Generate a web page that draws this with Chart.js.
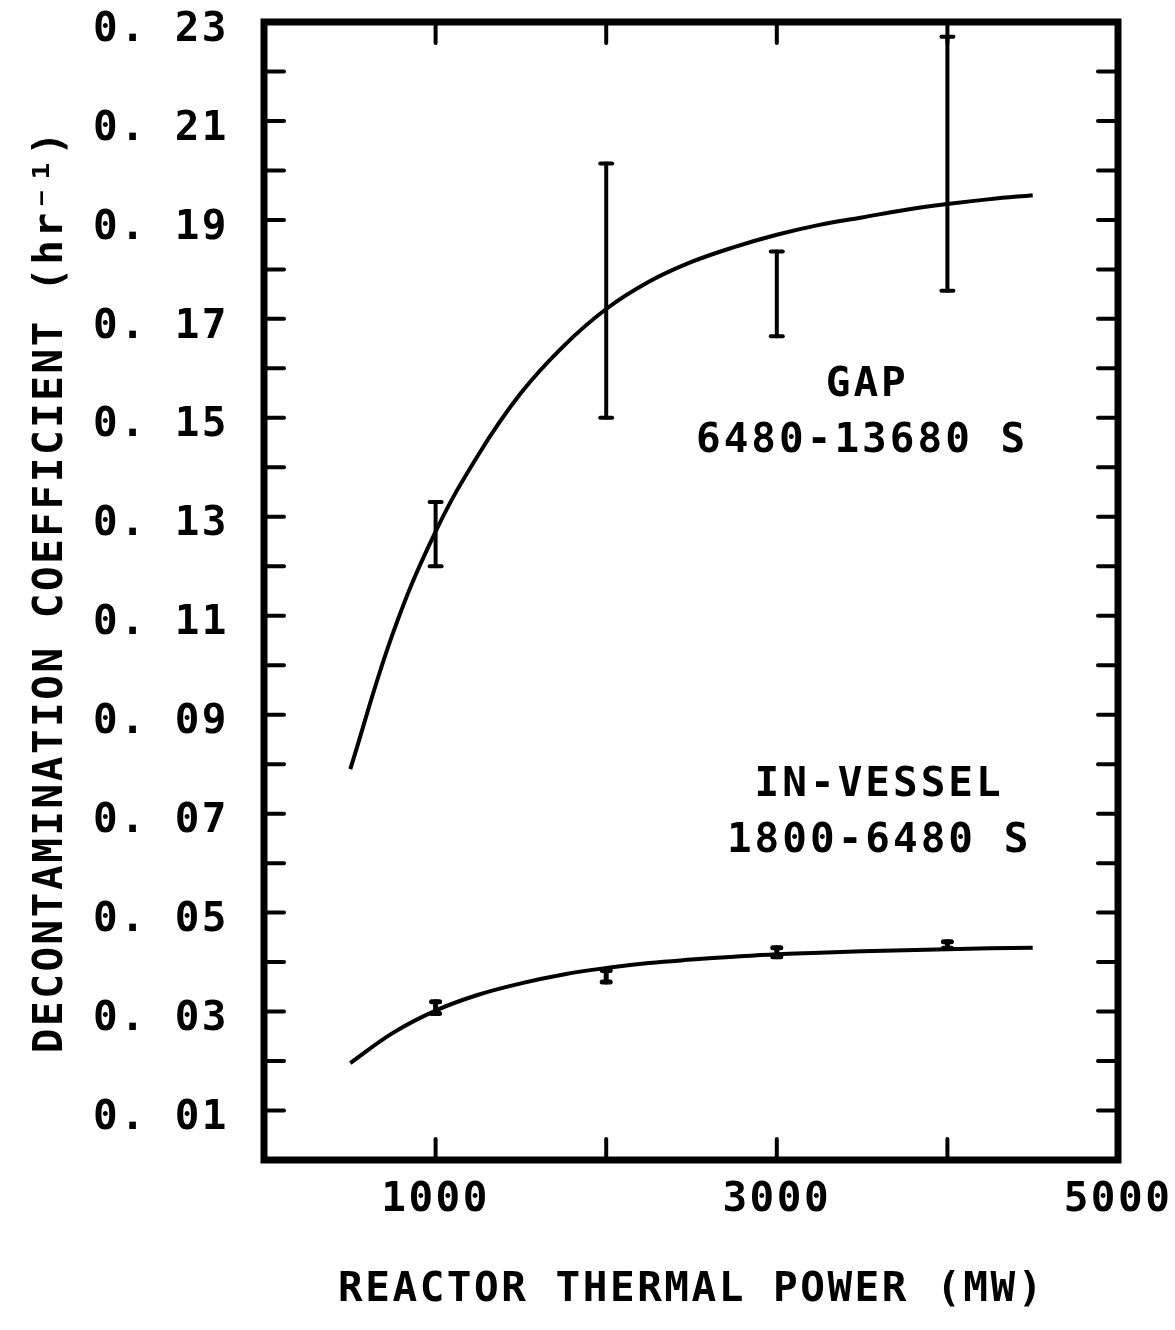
<!DOCTYPE html>
<html>
<head>
  <title>Decontamination Coefficient vs Reactor Thermal Power</title>
  <script src="https://cdn.jsdelivr.net/npm/chart.js"></script>
  <style>
    body { margin: 0; background: #fff; }
    canvas { display: block; }
  </style>
</head>
<body>
  <canvas id="decon" width="1175" height="1330"></canvas>

  <script>
    // fitted curves, every 250 MW
    const curveX = [500, 750, 1000, 1250, 1500, 1750, 2000, 2250, 2500, 2750, 3000, 3250, 3500, 3750, 4000, 4250, 4500];
    const gapCurveY = [0.079, 0.1065, 0.127, 0.1425, 0.155, 0.1645, 0.172, 0.1775, 0.1815, 0.1845, 0.187, 0.189, 0.1905, 0.192, 0.1932, 0.1942, 0.195];
    const vesselCurveY = [0.0196, 0.0257, 0.0302, 0.0334, 0.0357, 0.0375, 0.0388, 0.0398, 0.0405, 0.0411, 0.0416, 0.0419, 0.0422, 0.0424, 0.0426, 0.0428, 0.0429];

    // measured points (error bars)
    const barX = [1000, 2000, 3000, 4000];
    const gapLow = [0.120, 0.150, 0.1665, 0.1757];
    const gapHigh = [0.133, 0.2014, 0.1836, 0.227];
    const vesselLow = [0.0296, 0.0360, 0.0411, 0.0428];
    const vesselHigh = [0.0320, 0.0383, 0.0429, 0.0441];

    const FONT = '"DejaVu Sans Mono", monospace';
    Chart.defaults.font.family = FONT;
    Chart.defaults.font.size = 41;
    Chart.defaults.font.weight = 'bold';
    Chart.defaults.color = '#000';

    function line(ctx, x1, y1, x2, y2) {
      ctx.beginPath();
      ctx.moveTo(x1, y1);
      ctx.lineTo(x2, y2);
      ctx.stroke();
    }

    function errorBars(ctx, xs, ys, lows, highs, cap) {
      for (let i = 0; i < xs.length; i++) {
        const px = xs[i];
        const y1 = ys.getPixelForValue(lows[i]);
        const y2 = ys.getPixelForValue(highs[i]);
        line(ctx, px, y1, px, y2);
        line(ctx, px - cap, y1, px + cap, y1);
        line(ctx, px - cap, y2, px + cap, y2);
      }
    }

    const framePlugin = {
      id: 'frame',
      beforeLayout(chart) { chart.ctx.letterSpacing = '2.5px'; },
      beforeDraw(chart) { chart.ctx.letterSpacing = '2.5px'; },
      afterDatasetsDraw(chart) {
        const { ctx, chartArea: a, scales: { x, y } } = chart;
        ctx.save();
        ctx.strokeStyle = '#000';
        ctx.fillStyle = '#000';
        ctx.lineCap = 'round';

        // inward tick marks
        ctx.lineWidth = 4;
        y.ticks.forEach(t => {
          const py = y.getPixelForValue(t.value);
          if (py <= a.top + 3 || py >= a.bottom - 3) return;
          line(ctx, a.left, py, a.left + 19, py);
          line(ctx, a.right, py, a.right - 20, py);
        });
        x.ticks.forEach(t => {
          if (t.value <= 0 || t.value >= 5000) return;
          const px = x.getPixelForValue(t.value);
          line(ctx, px, a.bottom, px, a.bottom - 21);
          line(ctx, px, a.top, px, a.top + 21);
        });

        // error bars
        ctx.lineWidth = 4;
        const px = barX.map(v => x.getPixelForValue(v));
        errorBars(ctx, px, y, gapLow, gapHigh, 6);
        ctx.lineWidth = 5;
        errorBars(ctx, px, y, vesselLow, vesselHigh, 4);

        // frame
        ctx.lineCap = 'square';
        ctx.lineWidth = 7;
        ctx.strokeRect(a.left - 1, a.top, a.right - a.left + 1, a.bottom - a.top);

        // curve labels
        ctx.font = 'bold 41px ' + FONT;
        ctx.letterSpacing = '3px';
        ctx.textAlign = 'center';
        ctx.textBaseline = 'middle';
        const lbl = (s, vx, vy) => ctx.fillText(s, x.getPixelForValue(vx), y.getPixelForValue(vy));
        lbl('GAP', 3530, 0.1565);
        lbl('6480-13680 S', 3500, 0.1453);
        lbl('IN-VESSEL', 3600, 0.0757);
        lbl('1800-6480 S', 3600, 0.0645);
        ctx.restore();
      }
    };

    const toPoints = (xs, ys) => xs.map((v, i) => ({ x: v, y: ys[i] }));

    new Chart(document.getElementById('decon'), {
      type: 'line',
      data: {
        datasets: [
          {
            label: 'GAP 6480-13680 S',
            data: toPoints(curveX, gapCurveY),
            borderColor: '#000',
            borderWidth: 4,
            pointRadius: 0,
            tension: 0.4
          },
          {
            label: 'IN-VESSEL 1800-6480 S',
            data: toPoints(curveX, vesselCurveY),
            borderColor: '#000',
            borderWidth: 4,
            pointRadius: 0,
            tension: 0.4
          }
        ]
      },
      options: {
        responsive: false,
        animation: false,
        layout: { padding: { left: 0, top: 22, right: 57, bottom: 0 } },
        plugins: {
          legend: { display: false },
          tooltip: { enabled: false }
        },
        scales: {
          x: {
            type: 'linear',
            min: 0,
            max: 5000,
            grid: { display: false, drawTicks: false },
            border: { display: false },
            ticks: {
              stepSize: 1000,
              autoSkip: false,
              maxRotation: 0,
              padding: 16,
              callback: v => ((v / 1000) % 2 === 1 ? String(v) : '')
            },
            title: {
              display: true,
              text: 'REACTOR THERMAL POWER (MW)',
              padding: { top: 0, bottom: 15 }
            },
            afterFit(s) {
              s.height = 170;
              s.paddingLeft = 0;
              s.paddingRight = 0;
            }
          },
          y: {
            min: 0,
            max: 0.23,
            grid: { display: false, drawTicks: false },
            border: { display: false },
            ticks: {
              stepSize: 0.01,
              autoSkip: false,
              padding: 36,
              labelOffset: 8,
              callback: v => {
                const n = Math.round(v * 100);
                return n % 2 === 1 ? '0. ' + String(n).padStart(2, '0') : '';
              }
            },
            title: {
              display: true,
              text: 'DECONTAMINATION COEFFICIENT (hr\u207B\u00B9)',
              padding: { top: 27, bottom: 0 }
            },
            afterFit(s) {
              s.width = 265;
              s.paddingTop = 0;
              s.paddingBottom = 0;
            }
          }
        }
      },
      plugins: [framePlugin]
    });
  </script>
</body>
</html>
